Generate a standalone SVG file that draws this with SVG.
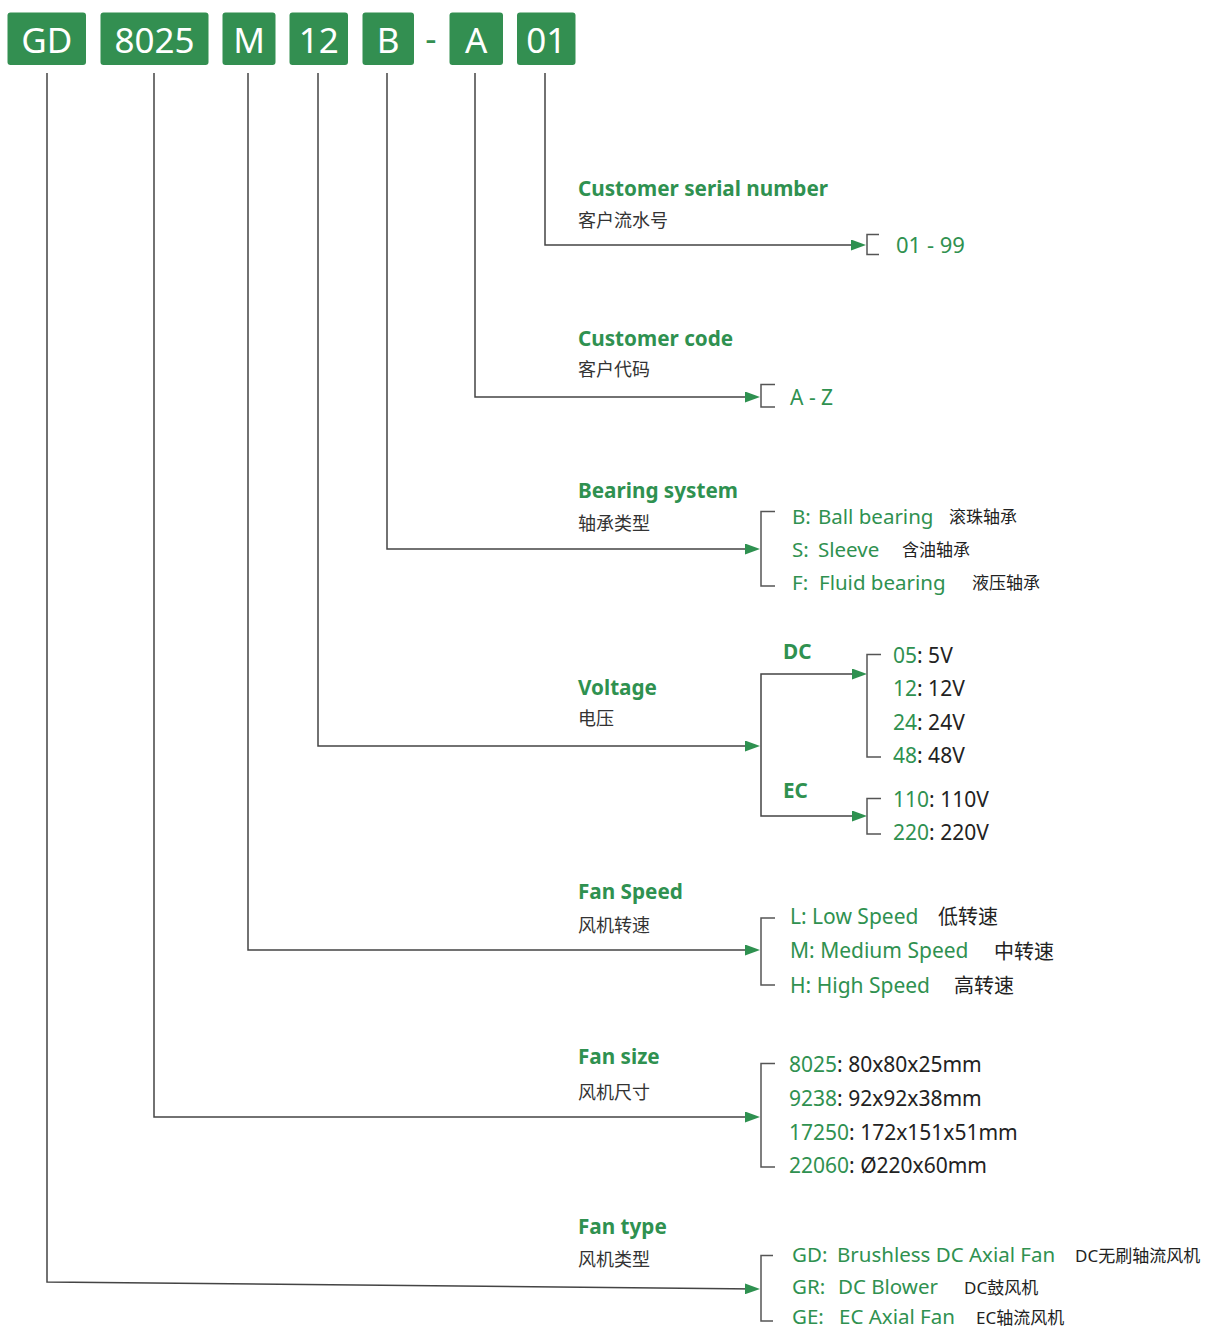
<svg xmlns="http://www.w3.org/2000/svg" width="1208" height="1329" viewBox="0 0 1208 1329">
<defs>
<style>
text{font-family:"Noto Sans","Noto Sans CJK SC",sans-serif;}
.box{fill:#338f51;}
.bt{fill:#fff;font-size:35px;text-anchor:middle;}
.t{fill:#2f9150;font-size:20.7px;font-weight:bold;}
.s{fill:#333;font-size:18px;}
.g{fill:#2f9150;}
.k{fill:#222;}
.it{font-size:20.5px;}
.cz{fill:#222;font-size:17px;}
.cz2{fill:#222;font-size:20px;}
.ln{fill:none;stroke:#444;stroke-width:1.5;}
.br{fill:none;stroke:#555;stroke-width:1.5;}
</style>
<marker id="arr" viewBox="0 0 15 11" refX="11" refY="5.5" markerWidth="15" markerHeight="11" markerUnits="userSpaceOnUse" orient="auto">
<path d="M0,0 L15,5.5 L0,11 z" fill="#2e9150"/>
</marker>
</defs>
<rect width="1208" height="1329" fill="#fff"/>

<g id="code">
<g id="box-GD"><rect class="box" x="7.5" y="12.5" width="78.5" height="52.5" rx="3"/><text class="bt" x="46.75" y="53">GD</text></g>
<g id="box-8025"><rect class="box" x="100.5" y="12.5" width="108" height="52.5" rx="3"/><text class="bt" x="154.5" y="53">8025</text></g>
<g id="box-M"><rect class="box" x="222.5" y="12.5" width="53" height="52.5" rx="3"/><text class="bt" x="249" y="53">M</text></g>
<g id="box-12"><rect class="box" x="289.5" y="12.5" width="58.5" height="52.5" rx="3"/><text class="bt" x="318.75" y="53">12</text></g>
<g id="box-B"><rect class="box" x="362.5" y="12.5" width="51.5" height="52.5" rx="3"/><text class="bt" x="388.25" y="53">B</text></g>
<text x="431" y="51" fill="#338f51" font-size="35" text-anchor="middle" style="font-family:'Noto Sans',sans-serif">-</text>
<g id="box-A"><rect class="box" x="449.5" y="12.5" width="53.5" height="52.5" rx="3"/><text class="bt" x="476.25" y="53">A</text></g>
<g id="box-01"><rect class="box" x="517" y="12.5" width="58.5" height="52.5" rx="3"/><text class="bt" x="546.25" y="53">01</text></g>
</g>

<g id="connectors">
<path class="ln" d="M545,73 V245 H862" marker-end="url(#arr)"/>
<path class="ln" d="M475,73 V397 H756" marker-end="url(#arr)"/>
<path class="ln" d="M387,73 V549 H756" marker-end="url(#arr)"/>
<path class="ln" d="M318,73 V746 H756" marker-end="url(#arr)"/>
<path class="ln" d="M761,746 V674 H863" marker-end="url(#arr)"/>
<path class="ln" d="M761,746 V816 H863" marker-end="url(#arr)"/>
<path class="ln" d="M248,73 V950 H756" marker-end="url(#arr)"/>
<path class="ln" d="M154,73 V1117 H756" marker-end="url(#arr)"/>
<path class="ln" d="M47,73 V1282 L756,1289" marker-end="url(#arr)"/>
</g>

<g id="serial">
<text class="t" x="578" y="196">Customer serial number</text>
<text class="s" x="578" y="227">客户流水号</text>
<path class="br" d="M879,234.5 H867 V254.5 H879"/>
<text class="g" x="896" y="253" font-size="22">01 - 99</text>
</g>

<g id="customer-code">
<text class="t" x="578" y="346">Customer code</text>
<text class="s" x="578" y="376">客户代码</text>
<path class="br" d="M775,384.5 H761 V407 H775"/>
<text class="g" x="790" y="405" font-size="21">A - Z</text>
</g>

<g id="bearing">
<text class="t" x="578" y="498">Bearing system</text>
<text class="s" x="578" y="530">轴承类型</text>
<path class="br" d="M775,511.5 H761 V586 H775"/>
<text class="g it" y="524"><tspan x="792">B:</tspan><tspan x="818">Ball bearing</tspan></text>
<text class="cz" x="949" y="523">滚珠轴承</text>
<text class="g it" y="557"><tspan x="792">S:</tspan><tspan x="818">Sleeve</tspan></text>
<text class="cz" x="902" y="556">含油轴承</text>
<text class="g it" y="590"><tspan x="792">F:</tspan><tspan x="819">Fluid bearing</tspan></text>
<text class="cz" x="972" y="589">液压轴承</text>
</g>

<g id="voltage">
<text class="t" x="578" y="695">Voltage</text>
<text class="s" x="578" y="725">电压</text>
<text class="t" x="783" y="659" font-size="19.5">DC</text>
<text class="t" x="783" y="798" font-size="19.5">EC</text>
<path class="br" d="M881,654.5 H867 V757 H881"/>
<path class="br" d="M881,798.5 H867 V834 H881"/>
<text font-size="21" x="893" y="663"><tspan class="g">05</tspan><tspan class="k">: 5V</tspan></text>
<text font-size="21" x="893" y="696"><tspan class="g">12</tspan><tspan class="k">: 12V</tspan></text>
<text font-size="21" x="893" y="730"><tspan class="g">24</tspan><tspan class="k">: 24V</tspan></text>
<text font-size="21" x="893" y="763"><tspan class="g">48</tspan><tspan class="k">: 48V</tspan></text>
<text font-size="21" x="893" y="807"><tspan class="g">110</tspan><tspan class="k">: 110V</tspan></text>
<text font-size="21" x="893" y="840"><tspan class="g">220</tspan><tspan class="k">: 220V</tspan></text>
</g>

<g id="fan-speed">
<text class="t" x="578" y="899">Fan Speed</text>
<text class="s" x="578" y="932">风机转速</text>
<path class="br" d="M775,918 H761 V985 H775"/>
<text class="g" font-size="21" x="790" y="924">L: Low Speed</text>
<text class="cz2" x="938" y="924">低转速</text>
<text class="g" font-size="21" x="790" y="958">M: Medium Speed</text>
<text class="cz2" x="994" y="959">中转速</text>
<text class="g" font-size="21" x="790" y="993">H: High Speed</text>
<text class="cz2" x="954" y="993">高转速</text>
</g>

<g id="fan-size">
<text class="t" x="578" y="1064">Fan size</text>
<text class="s" x="578" y="1099">风机尺寸</text>
<path class="br" d="M775,1063.5 H761 V1167 H775"/>
<text font-size="21" x="789" y="1072"><tspan class="g">8025</tspan><tspan class="k">: 80x80x25mm</tspan></text>
<text font-size="21" x="789" y="1106"><tspan class="g">9238</tspan><tspan class="k">: 92x92x38mm</tspan></text>
<text font-size="21" x="789" y="1140"><tspan class="g">17250</tspan><tspan class="k">: 172x151x51mm</tspan></text>
<text font-size="21" x="789" y="1173"><tspan class="g">22060</tspan><tspan class="k">: Ø220x60mm</tspan></text>
</g>

<g id="fan-type">
<text class="t" x="578" y="1234">Fan type</text>
<text class="s" x="578" y="1266">风机类型</text>
<path class="br" d="M773,1255.5 H761 V1321 H773"/>
<text class="g it" y="1262"><tspan x="792">GD:</tspan><tspan x="837">Brushless DC Axial Fan</tspan></text>
<text class="cz" x="1075" y="1262">DC无刷轴流风机</text>
<text class="g it" y="1294"><tspan x="792">GR:</tspan><tspan x="838">DC Blower</tspan></text>
<text class="cz" x="964" y="1294">DC鼓风机</text>
<text class="g it" y="1324"><tspan x="792">GE:</tspan><tspan x="839">EC Axial Fan</tspan></text>
<text class="cz" x="976" y="1324">EC轴流风机</text>
</g>
</svg>
